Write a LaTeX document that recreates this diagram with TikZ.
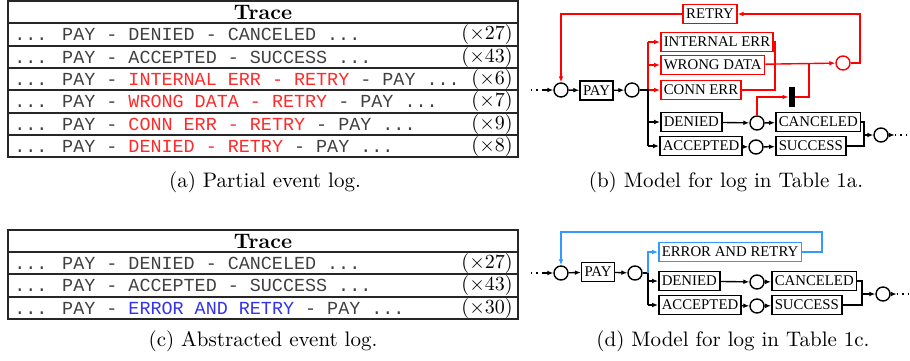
\documentclass[tikz,border=0pt]{standalone}
\usepackage{fontspec}
\newfontfamily\tms{Liberation Serif}
\newfontfamily\monof{Liberation Mono}
\usetikzlibrary{arrows.meta}
\definecolor{tred}{HTML}{FF2A2A}
\definecolor{tblue}{HTML}{3333EE}
\definecolor{lblue}{HTML}{3399FF}
\definecolor{mred}{HTML}{FF0000}
\begin{document}
\begin{tikzpicture}[x=0.5pt,y=-0.5pt,
  tline/.style={line width=0.6pt,draw=black!85},
  rowtxt/.style={anchor=west,inner sep=0pt,text=black!75,font=\monof\fontsize{9.2}{11}\selectfont},
  cnt/.style={anchor=east,inner sep=0pt,font=\fontsize{10}{12}\selectfont},
  hdr/.style={inner sep=0pt,font=\bfseries\fontsize{10.5}{12}\selectfont},
  captxt/.style={inner sep=0pt,font=\fontsize{10.5}{12}\selectfont},
  tbox/.style={draw,line width=0.75pt,anchor=west,font=\tms\fontsize{7.4}{8}\selectfont,inner xsep=1.5pt,inner ysep=0pt,minimum height=9.5pt},
  rbox/.style={tbox,draw=mred},
  bbox/.style={tbox,draw=lblue},
  place/.style={circle,draw,line width=0.7pt,minimum size=7pt,inner sep=0pt},
  arrowl/.style={line width=0.7pt,-{Latex[length=3pt,width=2.4pt]}},
  ln/.style={line width=0.7pt},
  silent/.style={fill=black,minimum width=3pt,minimum height=10pt,inner sep=0pt}
]
\useasboundingbox (0,0) rectangle (910,360);

% ---------------- Table (a)
\draw[tline] (8,1) rectangle (518,157);
\foreach \yy in {23,46,68,90,113,135} \draw[tline] (8,\yy) -- (518,\yy);
\node[hdr] (ha) at (263,12) {Trace};
\node[rowtxt] (a1) at (14,34.5) {... PAY - DENIED - CANCELED ...};
\node[rowtxt] (a2) at (14,57) {... PAY - ACCEPTED - SUCCESS ...};
\node[rowtxt] (a3) at (14,79) {... PAY - \textcolor{tred}{INTERNAL ERR - RETRY} - PAY ...};
\node[rowtxt] (a4) at (14,101.5) {... PAY - \textcolor{tred}{WRONG DATA - RETRY} - PAY ...};
\node[rowtxt] (a5) at (14,124) {... PAY - \textcolor{tred}{CONN ERR - RETRY} - PAY ...};
\node[rowtxt] (a6) at (14,146) {... PAY - \textcolor{tred}{DENIED - RETRY} - PAY ...};
\node[cnt] (n1) at (513,34.5) {($\times$27)};
\node[cnt] (n2) at (513,57) {($\times$43)};
\node[cnt] (n3) at (513,79) {($\times$6)};
\node[cnt] (n4) at (513,101.5) {($\times$7)};
\node[cnt] (n5) at (513,124) {($\times$9)};
\node[cnt] (n6) at (513,146) {($\times$8)};
\node[captxt] (capa) at (265,182) {(a) Partial event log.};

% ---------------- Table (c)
\draw[tline] (8,230) rectangle (518,319);
\foreach \yy in {252,274,297} \draw[tline] (8,\yy) -- (518,\yy);
\node[hdr] (hc) at (263,241) {Trace};
\node[rowtxt] (c1r) at (14,263) {... PAY - DENIED - CANCELED ...};
\node[rowtxt] (c2r) at (14,285.5) {... PAY - ACCEPTED - SUCCESS ...};
\node[rowtxt] (c3r) at (14,308) {... PAY - \textcolor{tblue}{ERROR AND RETRY} - PAY ...};
\node[cnt] (m1) at (513,263) {($\times$27)};
\node[cnt] (m2) at (513,285.5) {($\times$43)};
\node[cnt] (m3) at (513,308) {($\times$30)};
\node[captxt] (capc) at (263,341) {(c) Abstracted event log.};

% ---------------- Model (b)
\coordinate (bin) at (531,90);
\coordinate (bin2) at (543,90);
\node[place] (p1) at (561,90) {};
\node[tbox,anchor=center] (pay) at (596.5,90.5) {PAY};
\node[place] (p2) at (632,90) {};
\coordinate (br) at (648,90);
\node[rbox] (ie) at (660,42) {INTERNAL ERR};
\node[rbox] (wd) at (660,65) {WRONG DATA};
\node[rbox] (ce) at (660,90) {CONN ERR};
\node[tbox] (den) at (660,122) {DENIED};
\node[tbox] (acc) at (659,146) {ACCEPTED};
\node[rbox,anchor=center] (retry) at (710,14) {RETRY};
\node[place,draw=mred] (rp) at (843,63) {};
\node[silent] (tau) at (792,97) {};
\node[place] (p3) at (757,123) {};
\node[tbox] (canc) at (775,122) {CANCELED};
\node[place] (p4) at (756,147) {};
\node[tbox] (succ) at (775,146) {SUCCESS};
\node[place] (p5) at (881,135) {};
\coordinate (bout) at (907,135);

\draw[ln,dotted] (bin) -- (bin2);
\draw[arrowl] (bin2) -- (p1);
\draw[arrowl] (p1) -- (pay);
\draw[arrowl] (pay) -- (p2);
\draw[ln,mred] (br) -- (648,42);
\draw[arrowl,mred] (648,42) -- (ie);
\draw[arrowl,mred] (648,65) -- (wd);
\draw[arrowl,mred] (br) -- (ce);
\draw[ln] (p2) -- (br) -- (648,146);
\draw[arrowl] (648,122) -- (den);
\draw[arrowl] (648,146) -- (acc);
\draw[ln,mred] (ie.east) -| (775,90) -- (ce.east);
\draw[arrowl,mred] (wd) -- (rp);
\draw[ln,mred] (tau.east) -| (809,63);
\draw[arrowl,mred] (p3.north) |- (tau.west);
\draw[arrowl,mred] (rp.east) -- (860,63) |- (retry.east);
\draw[arrowl,mred] (retry.west) -| (p1.north);
\draw[arrowl] (den) -- (p3);
\draw[arrowl] (p3) -- (canc);
\draw[arrowl] (acc) -- (p4);
\draw[arrowl] (p4) -- (succ);
\draw[ln] (canc.east) -| (864,135);
\draw[ln] (succ.east) -| (864,135);
\draw[arrowl] (864,135) -- (p5);
\draw[ln,dotted] (p5.east) ++(6,0) -- (bout);
\draw[arrowl] (p5.east) -- ++(6,0);
\node[captxt] (capb) at (726,182) {(b) Model for log in Table 1a.};

% ---------------- Model (d)
\coordinate (din) at (531,273);
\coordinate (din2) at (543,273);
\node[place] (q1) at (561,273) {};
\node[tbox,anchor=center] (payd) at (598,272) {PAY};
\node[place] (q2) at (635,273) {};
\coordinate (brd) at (648,273);
\node[bbox] (ear) at (658,252) {ERROR AND RETRY};
\node[tbox] (dend) at (658,281) {DENIED};
\node[tbox] (accd) at (658,305) {ACCEPTED};
\node[place] (q3) at (757,282) {};
\node[tbox] (cand) at (771,281) {CANCELED};
\node[place] (q4) at (757,306) {};
\node[tbox] (sucd) at (771,305) {SUCCESS};
\node[place] (q5) at (883,294) {};
\coordinate (dout) at (909,294);

\draw[ln,dotted] (din) -- (din2);
\draw[arrowl] (din2) -- (q1);
\draw[arrowl] (q1) -- (payd);
\draw[arrowl] (payd) -- (q2);
\draw[ln] (q2) -- (brd) -- (648,305);
\draw[arrowl] (648,281) -- (dend);
\draw[arrowl] (648,305) -- (accd);
\draw[arrowl,lblue] (brd) |- (ear.west);
\draw[arrowl,lblue] (ear.east) -- (822,252) |- (561,232) -- (q1.north);
\draw[arrowl] (dend) -- (q3);
\draw[arrowl] (q3) -- (cand);
\draw[arrowl] (accd) -- (q4);
\draw[arrowl] (q4) -- (sucd);
\draw[ln] (cand.east) -| (862,294);
\draw[ln] (sucd.east) -| (862,294);
\draw[arrowl] (862,294) -- (q5);
\draw[ln,dotted] (q5.east) ++(6,0) -- (dout);
\draw[arrowl] (q5.east) -- ++(6,0);
\node[captxt] (capd) at (733,341) {(d) Model for log in Table 1c.};
\end{tikzpicture}
\end{document}
